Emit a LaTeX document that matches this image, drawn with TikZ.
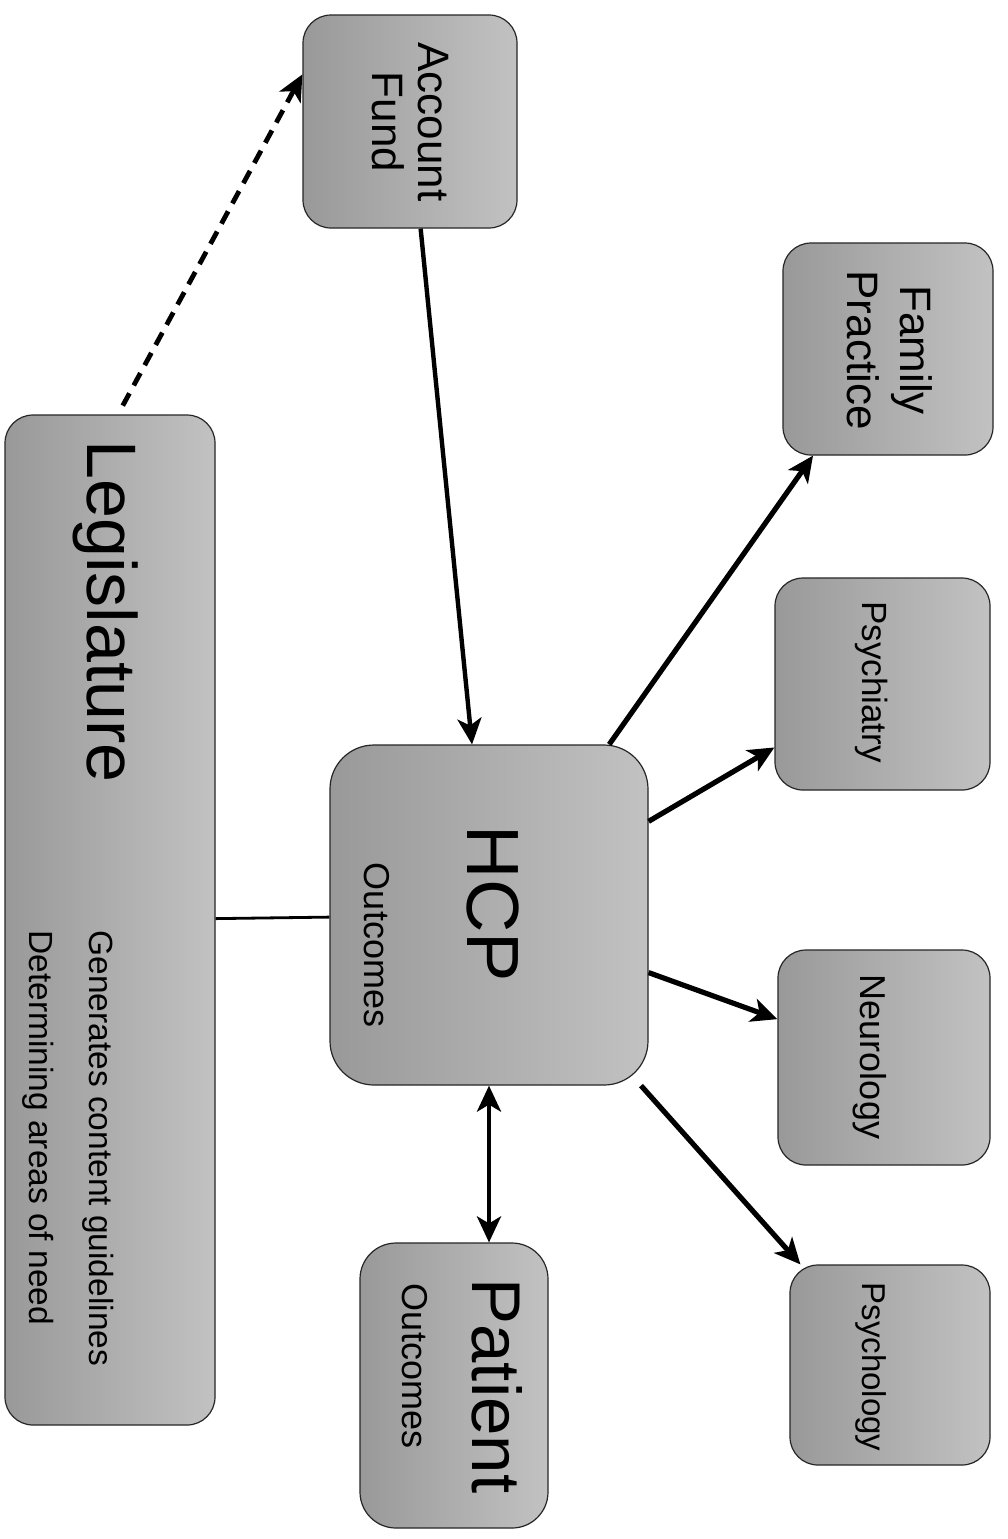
\documentclass[tikz,border=0pt]{standalone}
\usepackage{fontspec}
\setmainfont{Liberation Sans}
\usetikzlibrary{arrows.meta,calc}
\begin{document}
\begin{tikzpicture}[x=0.5pt,y=-0.5pt,
  box/.style={draw=black!85, line width=0.6pt, left color=black!40, right color=black!24,
              rounded corners=14pt, inner sep=0pt, rectangle},
  lbl/.style={rotate=-90, inner sep=0pt, anchor=base, text=black},
  conn/.style={line width=2.6pt, -{Stealth[length=13pt,width=12pt,inset=3.5pt]}},
  bconn/.style={line width=2.2pt, {Stealth[length=13pt,width=12pt,inset=3.5pt]}-{Stealth[length=13pt,width=12pt,inset=3.5pt]}},
]
\useasboundingbox (0,0) rectangle (1008,1539);
\fill[white] (0,0) rectangle (1008,1539);

% boxes
\node[box, minimum width=105pt, minimum height=505pt] (leg) at (110,920) {};
\node[box, minimum width=107pt, minimum height=106.5pt] (acct) at (410,121.5) {};
\node[box, minimum width=105pt, minimum height=106pt] (fam) at (888,349) {};
\node[box, minimum width=107.5pt, minimum height=106pt] (psyt) at (882.5,684) {};
\node[box, minimum width=106pt, minimum height=107.5pt] (neur) at (884,1057.5) {};
\node[box, minimum width=100pt, minimum height=100pt] (psyl) at (890,1365) {};
\node[box, rounded corners=22pt, minimum width=159pt, minimum height=170pt] (hcp) at (489,915) {};
\node[box, rounded corners=18pt, minimum width=94pt, minimum height=142.5pt] (pat) at (454,1385.5) {};

% connectors
\draw[conn, line width=2.4pt, dash pattern=on 7pt off 4.5pt, shorten <=5pt]
  ($(leg.north)+(8,0)$) -- ($(acct.north west)!0.28!(acct.south west)$);
\draw[conn, line width=2.2pt] (acct) -- (hcp);
\draw[conn] (hcp) -- (fam);
\draw[conn] (hcp) -- (psyt);
\draw[conn] (hcp) -- (neur);
\draw[conn] (hcp) -- (psyl);
\draw[bconn] (hcp.south) -- (hcp.south |- pat.north);
\draw[line width=1.4pt] (leg) -- (hcp);

% labels
\node[lbl, anchor=base west, font=\fontsize{35}{40}\selectfont] (tleg) at (87,440) {Legislature};
\node[lbl, anchor=base west, font=\fontsize{16.75}{20}\selectfont] (tgen) at (90,930) {Generates content guidelines};
\node[lbl, anchor=base west, font=\fontsize{16.75}{20}\selectfont] (tdet) at (30,930) {Determining areas of need};
\node[lbl, font=\fontsize{22}{26}\selectfont] (tacc) at (418,122) {Account};
\node[lbl, font=\fontsize{22}{26}\selectfont] (tfund) at (372,122) {Fund};
\node[lbl, font=\fontsize{22}{26}\selectfont] (tfam) at (900,350) {Family};
\node[lbl, font=\fontsize{22}{26}\selectfont] (tprac) at (847,350) {Practice};
\node[lbl, font=\fontsize{17.5}{20}\selectfont] (tpsyt) at (862,682) {Psychiatry};
\node[lbl, font=\fontsize{18}{20}\selectfont] (tneur) at (860,1057) {Neurology};
\node[lbl, font=\fontsize{16.5}{20}\selectfont] (tpsyl) at (862,1367) {Psychology};
\node[lbl, font=\fontsize{37}{40}\selectfont] (thcp) at (467,904) {HCP};
\node[lbl, font=\fontsize{18}{20}\selectfont] (thout) at (364,945) {Outcomes};
\node[lbl, font=\fontsize{34.5}{40}\selectfont] (tpat) at (472,1386) {Patient};
\node[lbl, font=\fontsize{18}{20}\selectfont] (tpout) at (402,1366) {Outcomes};
\end{tikzpicture}
\end{document}
